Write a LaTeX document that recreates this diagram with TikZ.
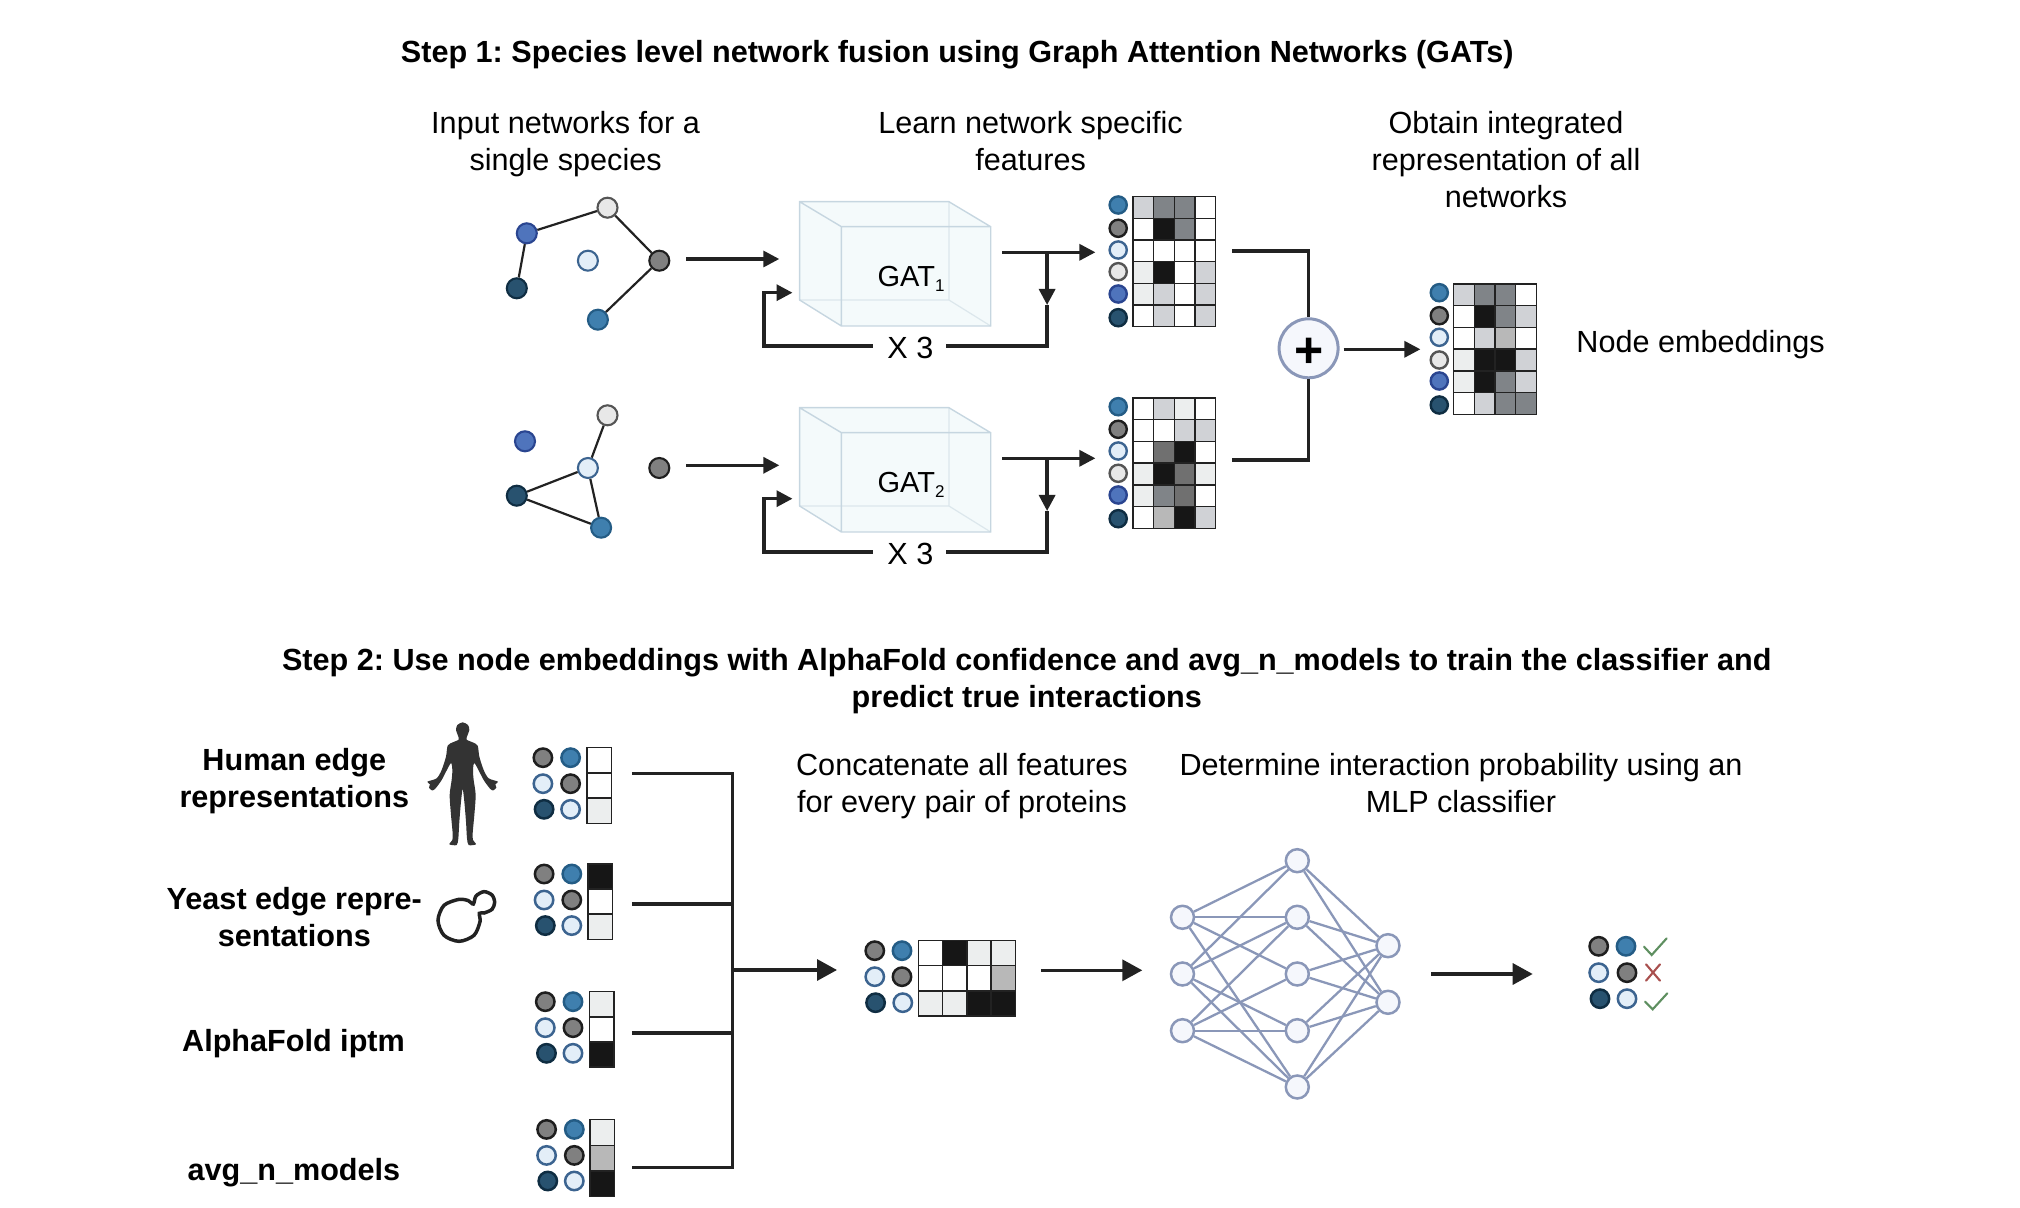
\documentclass[tikz,border=0pt]{standalone}
\usepackage{fontspec}
\setmainfont{Liberation Sans}
\usetikzlibrary{arrows.meta,positioning}
\frenchspacing
\definecolor{cW}{HTML}{FFFFFF}
\definecolor{cL}{HTML}{ECEEEE}
\definecolor{cG}{HTML}{D0D2D6}
\definecolor{cS}{HTML}{B8B8B8}
\definecolor{cM}{HTML}{808488}
\definecolor{cD}{HTML}{707070}
\definecolor{cK}{HTML}{161616}
\definecolor{ink}{HTML}{222222}
\definecolor{nnline}{HTML}{8A97B8}
\definecolor{nnfill}{HTML}{F5F7FC}
\definecolor{boxline}{HTML}{C6D6E0}
\definecolor{boxback}{HTML}{DCE7EC}
\definecolor{boxfill}{HTML}{F4FAFB}
\definecolor{okgreen}{HTML}{5E8F60}
\definecolor{nored}{HTML}{A9504E}
\tikzset{
  txt/.style={font=\fontsize{15.3}{18.5}\selectfont,align=center,inner sep=0pt,text=black},
  btxt/.style={font=\fontsize{15.3}{18.5}\selectfont\bfseries,align=center,inner sep=0pt,text=black},
  ttxt/.style={font=\fontsize{15.3}{18.5}\selectfont\bfseries,align=center,inner sep=0pt,text=black},
  gtxt/.style={font=\fontsize{14.5}{18}\selectfont,inner sep=0pt,text=black},
  pdot/.style={circle,inner sep=0pt,minimum size=10pt,line width=1.05pt},
  small/.style={minimum size=9.2pt,line width=1.25pt},
  mdot/.style={minimum size=8.6pt,line width=1.2pt},
  dTeal/.style={pdot,fill={rgb,255:red,63;green,127;blue,174},draw={rgb,255:red,36;green,92;blue,133}},
  dGray/.style={pdot,fill={rgb,255:red,128;green,128;blue,128},draw={rgb,255:red,30;green,30;blue,30}},
  dLB/.style={pdot,fill={rgb,255:red,227;green,238;blue,248},draw={rgb,255:red,60;green,100;blue,144}},
  dLG/.style={pdot,fill={rgb,255:red,232;green,232;blue,232},draw={rgb,255:red,85;green,85;blue,85}},
  dBlue/.style={pdot,fill={rgb,255:red,79;green,116;blue,188},draw={rgb,255:red,42;green,69;blue,144}},
  dDark/.style={pdot,fill={rgb,255:red,40;green,82;blue,111},draw={rgb,255:red,15;green,45;blue,66}},
  nnode/.style={circle,inner sep=0pt,minimum size=11.5pt,line width=1.25pt,draw=nnline,fill=nnfill},
  nnedge/.style={draw=nnline,line width=1.15pt},
  netedge/.style={draw=ink,line width=1.1pt},
  conn/.style={draw=ink,line width=1.65pt},
  arr/.style={conn,-{Triangle[length=8pt,width=8pt]}},
  bigarr/.style={conn,-{Triangle[length=10pt,width=10.5pt]}},
  cell/.style={draw=ink,line width=0.75pt},
}
% \heatmap{x0}{y0}{x1}{y1}{ncols}{nrows}{colour list}
\newcommand\heatmap[7]{%
  \foreach \cc [count=\ii from 0] in {#7}{%
    \pgfmathtruncatemacro\cl{mod(\ii,#5)}%
    \pgfmathtruncatemacro\rw{int(\ii/#5)}%
    \pgfmathsetmacro\xa{#1+\cl*(#3-#1)/#5}%
    \pgfmathsetmacro\xb{#1+(\cl+1)*(#3-#1)/#5}%
    \pgfmathsetmacro\ya{#2+\rw*(#4-#2)/#6}%
    \pgfmathsetmacro\yb{#2+(\rw+1)*(#4-#2)/#6}%
    \path[cell,fill=\cc] (\xa,\ya) rectangle (\xb,\yb);
  }%
}
% pair of dot columns, three rows
\newcommand\pairdots[3]{% prefix, dx, dy
  \node[dGray,small] (#1a) at (542.9+#2,757.7+#3) {};
  \node[dTeal,small] (#1b) at (570.6+#2,757.7+#3) {};
  \node[dLB,small] (#1c) at (542.9+#2,783.7+#3) {};
  \node[dGray,small] (#1d) at (570.6+#2,783.7+#3) {};
  \node[dDark,small] (#1e) at (544.1+#2,809.3+#3) {};
  \node[dLB,small] (#1f) at (570.6+#2,809.3+#3) {};
}
\newcommand\gatbox[1]{% dy
  \path[fill=boxfill] (799.6,201.7+#1) -- (948.9,201.7+#1) -- (990.7,226.7+#1) -- (990.7,326+#1) -- (841.4,326+#1) -- (799.6,300+#1) -- cycle;
  \draw[boxback,line width=0.6pt] (948.9,201.7+#1) -- (948.9,300+#1) -- (799.6,300+#1) (948.9,300+#1) -- (990.7,326+#1);
  \draw[boxline,line width=0.7pt] (799.6,201.7+#1) -- (948.9,201.7+#1) -- (990.7,226.7+#1) -- (990.7,326+#1) -- (841.4,326+#1) -- (799.6,300+#1) -- cycle (799.6,201.7+#1) -- (841.4,226.7+#1) -- (990.7,226.7+#1) (841.4,226.7+#1) -- (841.4,326+#1);
}
\newcommand\gatsub[1]{{\fontsize{8.5}{9}\selectfont\raisebox{-2.2pt}{#1}}}
\begin{document}
\begin{tikzpicture}[x=0.5pt,y=-0.5pt]
\useasboundingbox (0,0) rectangle (2020,1208);

% titles and captions
\node[ttxt] (title1) at (957.2,54.5) {Step 1: Species level network fusion using Graph Attention Networks (GATs)};
\node[txt] (capinput) at (565.6,144) {Input networks for a\\single species};
\node[txt] (caplearn) at (1030.6,141) {Learn network specific\\features};
\node[txt] (capobtain) at (1506,160) {Obtain integrated\\representation of all\\networks};
\node[txt] (capnode) at (1700.6,345) {Node embeddings};
\node[ttxt] (title2) at (1026.8,681) {Step 2: Use node embeddings with AlphaFold confidence and avg\_n\_models to train the classifier and\\predict true interactions};
\node[txt] (capconcat) at (962,786) {Concatenate all features\\for every pair of proteins};
\node[txt] (capmlp) at (1461,783.5) {Determine interaction probability using an\\MLP classifier};
\node[btxt] (lhuman) at (294.3,781) {Human edge\\representations};
\node[btxt] (lyeast) at (294.3,917) {Yeast edge repre-\\sentations};
\node[btxt] (lalpha) at (293.5,1044) {AlphaFold iptm};
\node[btxt] (lavg) at (293.9,1173) {avg\_n\_models};

% network 1
\node[dBlue] (a1) at (526.8,233.3) {};
\node[dLG] (a2) at (607.5,207.7) {};
\node[dLB] (a3) at (587.9,260.7) {};
\node[dGray] (a4) at (659.3,260.7) {};
\node[dDark] (a5) at (516.8,288.3) {};
\node[dTeal] (a6) at (597.9,319.7) {};
\draw[netedge] (a1)--(a2) (a2)--(a4) (a4)--(a6) (a1)--(a5);
% network 2
\node[dLG] (b2) at (607.5,415.3) {};
\node[dBlue] (b1) at (525,441.3) {};
\node[dLB] (b3) at (587.9,468) {};
\node[dGray] (b4) at (659.3,468) {};
\node[dDark] (b5) at (516.8,495.7) {};
\node[dTeal] (b6) at (601.1,527.7) {};
\draw[netedge] (b2)--(b3) (b3)--(b5) (b3)--(b6) (b5)--(b6);

% GAT boxes
\gatbox{0}
\gatbox{206}
\node[gtxt] (gat1) at (911,279) {GAT\gatsub{1}};
\node[gtxt] (gat2) at (911,485) {GAT\gatsub{2}};
\node[txt] (xthree1) at (910.4,347.5) {X 3};
\node[txt] (xthree2) at (910.4,553.5) {X 3};

% connectors step 1
\coordinate (i1s) at (686.4,259); \coordinate (i1e) at (779.3,259);
\coordinate (i2s) at (686.4,465.3); \coordinate (i2e) at (779.3,465.3);
\draw[arr] (i1s) -- (i1e);
\draw[arr] (i2s) -- (i2e);
\foreach \dy/\nm in {0/p,206/q}{
  \coordinate (\nm os) at (1002.1,252.3+\dy);
  \coordinate (\nm oe) at (1095.4,252.3+\dy);
  \coordinate (\nm ov) at (1047.1,252.3+\dy);
  \coordinate (\nm dn) at (1047.1,305+\dy);
  \coordinate (\nm lr) at (945.7,346+\dy);
  \coordinate (\nm ll) at (872.9,346+\dy);
  \coordinate (\nm lc) at (763.9,292.7+\dy);
  \coordinate (\nm lt) at (792.5,292.7+\dy);
  \draw[arr] (\nm os) -- (\nm oe);
  \draw[arr] (\nm ov) -- (\nm dn);
  \draw[conn,line join=miter] (\nm dn) |- (\nm lr);
  \draw[arr,line join=miter] (\nm ll) -| (\nm lc) -- (\nm lt);
}

% heat maps step 1
\heatmap{1132.9}{196.7}{1215.7}{326.7}{4}{6}{cG,cM,cM,cW,cW,cK,cM,cW,cW,cW,cW,cW,cL,cK,cW,cG,cL,cG,cW,cG,cW,cG,cW,cG}
\heatmap{1132.9}{398}{1215.7}{528.3}{4}{6}{cW,cG,cL,cW,cW,cW,cG,cG,cW,cD,cK,cW,cL,cK,cD,cL,cL,cM,cD,cW,cW,cS,cK,cG}
\heatmap{1453.6}{284}{1536.4}{414.3}{4}{6}{cG,cM,cM,cW,cW,cK,cM,cG,cW,cG,cS,cW,cL,cK,cK,cG,cL,cK,cM,cG,cW,cG,cM,cM}
\foreach \yy/\st/\nm in {205/dTeal/1,228.3/dGray/2,250/dLB/3,271.7/dLG/4,294/dBlue/5,317.7/dDark/6}
  \node[\st,mdot] (m\nm) at (1118.2,\yy) {};
\foreach \yy/\st/\nm in {406.7/dTeal/1,429.3/dGray/2,451/dLB/3,473.3/dLG/4,495/dBlue/5,518.7/dDark/6}
  \node[\st,mdot] (n\nm) at (1118.2,\yy) {};
\foreach \yy/\st/\nm in {292.7/dTeal/1,315.7/dGray/2,337.3/dLB/3,360/dLG/4,381/dBlue/5,405/dDark/6}
  \node[\st,mdot] (o\nm) at (1439.3,\yy) {};

% sum
\node[circle,draw=nnline,fill=nnfill,line width=1.5pt,minimum size=29.5pt,inner sep=0pt,font=\fontsize{25}{25}\selectfont\bfseries] (plus) at (1308.6,348.3) {\raisebox{-9.4pt}[0pt][0pt]{+}};
\coordinate (mg1) at (1232.1,251);
\coordinate (mg2) at (1232.1,460);
\coordinate (sumout) at (1343.6,349.3);
\coordinate (sumend) at (1420.4,349.3);
\draw[conn] (mg1) -| (plus.north);
\draw[conn] (mg2) -| (plus.south);
\draw[arr] (sumout) -- (sumend);

% human silhouette
\begin{scope}[shift={(410,715)},x=0.16667pt,y=-0.16667pt]
\fill[fill={rgb,255:red,51;green,51;blue,51}] plot[smooth cycle,tension=0.45] coordinates {
 (158,22) (142,30) (138,45) (144,62) (146,74) (128,82) (113,92) (108,125) (95,165) (80,190) (52,200) (60,208) (57,218) (66,226) (75,222) (95,195) (122,145) (127,165) (125,195) (119,240) (123,300) (128,355) (127,375) (118,388) (140,390) (145,370) (148,320) (153,260) (158,222)
 (163,260) (168,320) (171,370) (176,390) (198,388) (189,375) (188,355) (193,300) (197,240) (191,195) (189,165) (194,145) (221,195) (241,222) (250,226) (259,218) (256,208) (264,200) (236,190) (221,165) (208,125) (203,92) (188,82) (170,74) (172,62) (178,45) (174,30)};
\end{scope}

% yeast
\begin{scope}[shift={(420,880)},x=0.16667pt,y=-0.16667pt]
\draw[ink,line width=1.75pt] plot[smooth cycle,tension=0.5] coordinates {
 (160,72) (168,48) (192,35) (216,45) (224,67) (216,88) (192,99) (178,100) (180,125) (162,166) (117,184) (72,166) (54,121) (72,76) (117,58) (145,62)};
\end{scope}

% edge feature groups
\pairdots{ga}{0}{0}
\pairdots{gb}{1.2}{116.3}
\pairdots{gc}{2.4}{244}
\pairdots{gd}{3.7}{371.7}
\heatmap{587}{747.7}{611.4}{823.3}{1}{3}{cW,cW,cL}
\heatmap{588.2}{864}{612.7}{939.3}{1}{3}{cK,cW,cL}
\heatmap{589.4}{991.7}{613.9}{1067}{1}{3}{cL,cW,cK}
\heatmap{590.2}{1119.7}{614.7}{1196.7}{1}{3}{cL,cS,cK}

% bracket
\coordinate (br1) at (631.8,773.3); \coordinate (br2) at (631.8,904);
\coordinate (br3) at (631.8,1033); \coordinate (br4) at (631.8,1167.3);
\coordinate (brt) at (732.7,773.3); \coordinate (brb) at (732.7,1167.3);
\coordinate (brm) at (732.7,970); \coordinate (bre) at (837,970);
\coordinate (brx) at (732.7,904); \coordinate (bry) at (732.7,1033);
\draw[conn,line join=miter] (br1) -- (brt) -- (brb) -- (br4);
\draw[conn] (br2) -- (brx);
\draw[conn] (br3) -- (bry);
\draw[bigarr] (brm) -- (bre);

% concatenated features
\node[dGray,small] (ca) at (874.8,950.7) {};
\node[dTeal,small] (cb) at (902,950.7) {};
\node[dLB,small] (cc) at (874.8,976.7) {};
\node[dGray,small] (cd) at (902,976.7) {};
\node[dDark,small] (ce) at (875.6,1002.7) {};
\node[dLB,small] (cf) at (902.8,1002.7) {};
\heatmap{918.5}{940.3}{1015.3}{1016}{4}{3}{cW,cK,cL,cL,cW,cW,cW,cS,cL,cL,cK,cK}
\coordinate (c2s) at (1040.9,970.3); \coordinate (c2e) at (1142.3,970.3);
\draw[bigarr] (c2s) -- (c2e);

% MLP
\foreach \nm/\xx/\yy in {h1/1182.5/917.3,h2/1182.5/974,h3/1182.5/1030.7,
  k1/1297.3/860.7,k2/1297.3/917.3,k3/1297.3/974,k4/1297.3/1030.7,k5/1297.3/1087,
  r1/1388/945.7,r2/1388/1002.3}
  \node[nnode] (\nm) at (\xx,\yy) {};
\foreach \aa/\bb in {h1/k1,h1/k2,h1/k3,h1/k5,h2/k1,h2/k2,h2/k4,h2/k5,h3/k2,h3/k3,h3/k4,h3/k5,
  k1/r1,k1/r2,k2/r1,k2/r2,k3/r1,k3/r2,k4/r1,k4/r2,k5/r1,k5/r2}
  \draw[nnedge] (\aa) -- (\bb);

% prediction
\coordinate (c3s) at (1431,974); \coordinate (c3e) at (1532.7,974);
\draw[bigarr] (c3s) -- (c3e);
\node[dGray,small] (pa) at (1598.7,946.3) {};
\node[dTeal,small] (pb) at (1626,946.3) {};
\node[dLB,small] (pc) at (1598.7,972.7) {};
\node[dGray,small] (pd) at (1627,972.7) {};
\node[dDark,small] (pe) at (1600,998.7) {};
\node[dLB,small] (pf) at (1627,998.7) {};
\draw[okgreen,line width=1.05pt,line cap=round] (1644,946.7) -- (1651.7,955) -- (1666.7,938.3);
\draw[okgreen,line width=1.05pt,line cap=round] (1645,1001.7) -- (1652.7,1009.3) -- (1667.3,993.3);
\draw[nored,line width=1.05pt,line cap=round] (1646,964.3) -- (1660,980.7) (1660,964.3) -- (1646,980.7);
\end{tikzpicture}
\end{document}
